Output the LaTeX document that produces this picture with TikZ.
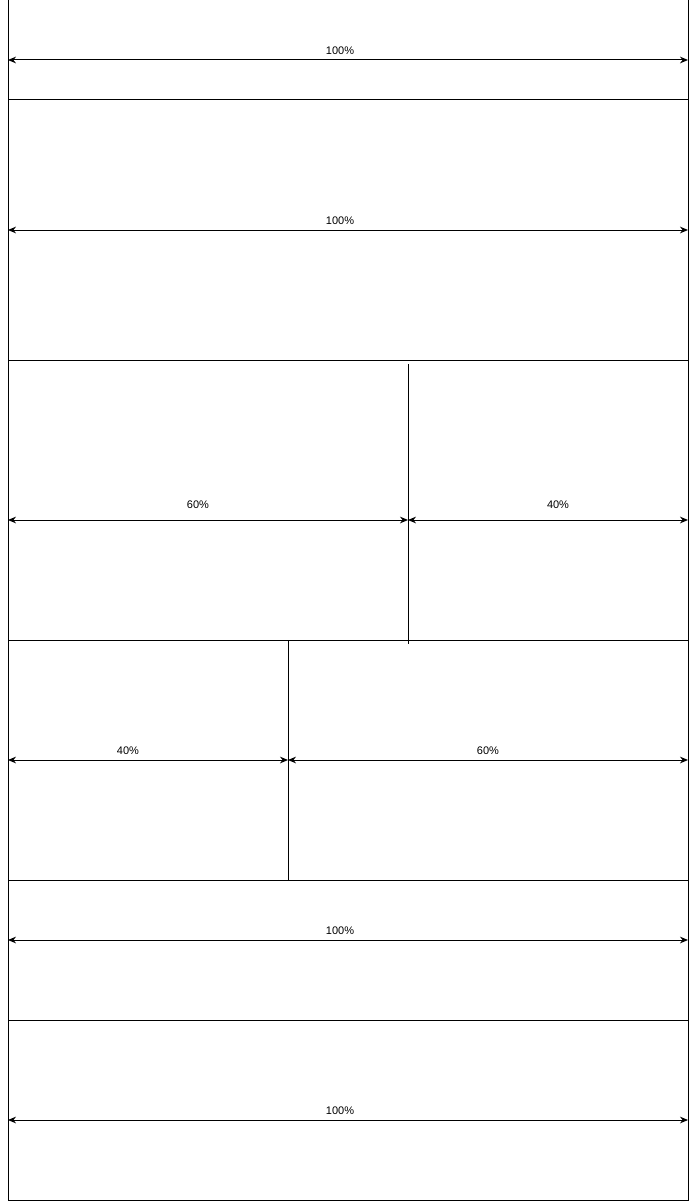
\documentclass[tikz,border=0pt]{standalone}
\usepackage{fontspec}
\setmainfont{Liberation Sans}
\usetikzlibrary{arrows.meta}
\begin{document}
\begin{tikzpicture}[x=0.75pt,y=-0.75pt,
  rowbox/.style={draw=black,line width=0.75pt,inner sep=0pt,outer sep=0pt},
  divider/.style={draw=black,line width=0.75pt},
  dim/.style={draw=black,line width=0.75pt,{Stealth[length=6pt,width=5pt]}-{Stealth[length=6pt,width=5pt]}},
  lbl/.style={font=\fontsize{8.25pt}{10pt}\selectfont,inner sep=0pt}]
\useasboundingbox (0,0) rectangle (698,1202);
% rows
\node[rowbox,minimum width=680*0.75pt,minimum height=100*0.75pt] (r1) at (348,50) {};
\node[rowbox,minimum width=680*0.75pt,minimum height=260*0.75pt] (r2) at (348,230) {};
\node[rowbox,minimum width=680*0.75pt,minimum height=280*0.75pt] (r3) at (348,500) {};
\node[rowbox,minimum width=680*0.75pt,minimum height=240*0.75pt] (r4) at (348,760) {};
\node[rowbox,minimum width=680*0.75pt,minimum height=140*0.75pt] (r5) at (348,950) {};
\node[rowbox,minimum width=680*0.75pt,minimum height=180*0.75pt] (r6) at (348,1110) {};
% dividers
\coordinate (d3t) at (408,364);
\coordinate (d3b) at (408,644);
\coordinate (d4t) at (288,640);
\coordinate (d4b) at (288,880);
\draw[divider] (d3t) -- (d3b);
\draw[divider] (d4t) -- (d4b);
% dimension arrow end points
\coordinate (a1l) at (8,60);   \coordinate (a1r) at (688,60);
\coordinate (a2l) at (8,230);  \coordinate (a2r) at (688,230);
\coordinate (a3l) at (8,520);  \coordinate (a3m) at (408,520); \coordinate (a3r) at (688,520);
\coordinate (a4l) at (8,760);  \coordinate (a4m) at (288,760); \coordinate (a4r) at (688,760);
\coordinate (a5l) at (8,940);  \coordinate (a5r) at (688,940);
\coordinate (a6l) at (8,1120); \coordinate (a6r) at (688,1120);
\draw[dim] (a1l) -- (a1r);
\draw[dim] (a2l) -- (a2r);
\draw[dim] (a3l) -- (a3m);
\draw[dim] (a3m) -- (a3r);
\draw[dim] (a4l) -- (a4m);
\draw[dim] (a4m) -- (a4r);
\draw[dim] (a5l) -- (a5r);
\draw[dim] (a6l) -- (a6r);
% labels
\node[lbl] (t1) at (340,51) {100\%};
\node[lbl] (t2) at (340,221) {100\%};
\node[lbl] (t3a) at (198,505) {60\%};
\node[lbl] (t3b) at (558,505) {40\%};
\node[lbl] (t4a) at (128,751) {40\%};
\node[lbl] (t4b) at (488,751) {60\%};
\node[lbl] (t5) at (340,931) {100\%};
\node[lbl] (t6) at (340,1111) {100\%};
\end{tikzpicture}
\end{document}
